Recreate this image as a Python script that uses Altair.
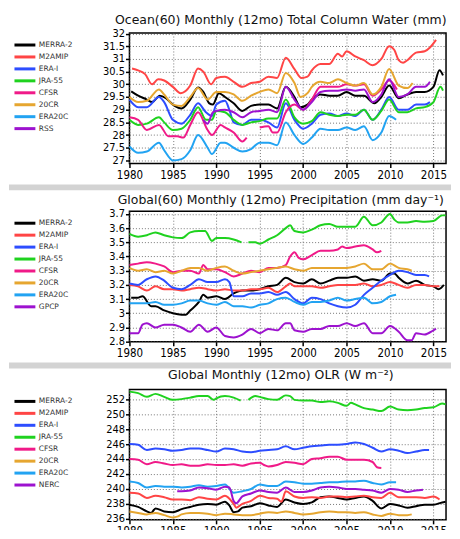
import altair as alt
import pandas as pd

GRAY = "#d3d3d3"
NAMES_TCW = ["MERRA-2", "M2AMIP", "ERA-I", "JRA-55", "CFSR", "20CR", "ERA20C", "RSS"]
NAMES_PRE = ["MERRA-2", "M2AMIP", "ERA-I", "JRA-55", "CFSR", "20CR", "ERA20C", "GPCP"]
NAMES_OLR = ["MERRA-2", "M2AMIP", "ERA-I", "JRA-55", "CFSR", "20CR", "ERA20C", "NERC"]
COLORS = ["#000000", "#ff4545", "#2d4dff", "#1fd21f", "#f01a88", "#e6a630", "#22a3f2", "#9d12cf"]

TITLES = [
    "Ocean(60) Monthly (12mo) Total Column Water (mm)",
    "Global(60) Monthly (12mo) Precipitation (mm day\u207b\u00b9)",
    "Global Monthly (12mo) OLR (W m\u207b\u00b2)",
]
YEAR_TICKS = [1980, 1985, 1990, 1995, 2000, 2005, 2010, 2015]
TCW_TICKS = [27, 27.5, 28, 28.5, 29, 29.5, 30, 30.5, 31, 31.5, 32]
PRE_TICKS = [2.8, 2.9, 3.0, 3.1, 3.2, 3.3, 3.4, 3.5, 3.6, 3.7]
OLR_TICKS = [236, 238, 240, 242, 244, 246, 248, 250, 252]

# ---------------- Total column water ----------------
TCW_MERRA2 = [[1980.2,29.72],[1981,29.55],[1982,29.4],[1982.6,29.3],[1983.5,29.55],[1984.2,29.45],[1985,29.2],[1986,29.05],[1987,29.4],[1987.9,29.87],[1988.5,29.7],[1989.2,29.25],[1989.6,29.2],[1990.3,29.65],[1991,29.5],[1992,29.25],[1993,28.95],[1994,29.15],[1995,29.2],[1996,29.2],[1997,29.05],[1998,29.9],[1999,29.5],[1999.7,29.1],[2000.5,29.2],[2001,29.4],[2002,29.6],[2003,29.55],[2004,29.55],[2005,29.7],[2006,29.55],[2007,29.55],[2008.2,29.25],[2009,29.5],[2009.9,29.95],[2011,29.45],[2012,29.6],[2013,29.7],[2014,29.7],[2015,29.9],[2015.7,30.55],[2016.1,30.35]]
TCW_M2AMIP = [[1980.3,30.62],[1981,30.55],[1981.8,30.4],[1982.6,30.0],[1983.3,30.2],[1984,30.15],[1985,29.9],[1985.9,29.65],[1987,29.95],[1987.9,30.62],[1988.5,30.5],[1989.4,30.0],[1990,30.25],[1991,30.3],[1992,30.1],[1993,29.9],[1994,30.05],[1995,30.1],[1996,30.3],[1997,30.25],[1998,31.05],[1999,30.6],[1999.8,30.25],[2000.5,30.3],[2001,30.55],[2002,30.8],[2003,30.8],[2004,31.2],[2004.5,31.1],[2005,31.3],[2006,31.1],[2007,30.95],[2008,30.75],[2009,31.0],[2009.9,31.5],[2010.5,31.35],[2011,30.95],[2011.5,30.85],[2012,30.95],[2013,31.25],[2014,31.3],[2014.6,31.45],[2015.3,31.75]]
TCW_ERAI = [[1980,29.4],[1981,29.1],[1982,29.1],[1983.4,29.5],[1984,29.3],[1985,28.6],[1986,28.45],[1987,28.8],[1987.9,29.25],[1988.8,28.9],[1989.5,28.75],[1990,29.2],[1991,29.35],[1991.5,29.0],[1992,28.5],[1993,28.4],[1994,28.6],[1995,28.6],[1996,28.5],[1997,28.3],[1998,29.25],[1999,28.6],[2000,28.25],[2001,28.45],[2002,28.8],[2003,28.85],[2004,28.75],[2005,28.85],[2006,28.75],[2007,29.0],[2008,28.6],[2009,29.0],[2009.9,29.5],[2011,29.0],[2012,29.0],[2013,29.2],[2014,29.2],[2014.6,29.3]]
TCW_JRA55 = [[1980,28.6],[1981,28.4],[1982,28.45],[1983.4,28.7],[1984,28.5],[1985,28.2],[1986,28.25],[1987,28.6],[1987.9,29.1],[1988.8,28.6],[1989.5,28.6],[1990,28.95],[1991,28.9],[1992,28.6],[1993,28.4],[1994,28.5],[1995,28.55],[1996,28.65],[1997,28.65],[1998,29.4],[1999,28.7],[2000,28.45],[2001,28.55],[2002,28.9],[2003,28.8],[2004,28.75],[2005,28.8],[2006,28.8],[2007,29.0],[2008,28.6],[2009,28.95],[2009.9,29.4],[2011,28.9],[2012,28.9],[2013,29.05],[2014,29.1],[2015,29.3],[2015.8,29.9],[2016.1,29.75]]
TCW_CFSR = [[1980,28.7],[1981,28.6],[1982,28.2],[1983.4,28.4],[1984.5,27.95],[1985.5,27.95],[1986.2,27.9],[1987,28.4],[1987.9,28.9],[1989,28.2],[1989.5,28.0],[1990.5,28.4],[1991,28.3],[1992,28.1],[1993,27.75],[1993.5,27.9],[1994.2,None],[1995,28.3],[1996,28.35],[1996.5,28.1],[1997,28.1],[1998,28.9],[1999,29.2],[2000,29.0],[2001,29.4],[2002,29.9],[2003,29.9],[2004,29.9],[2005,30.0],[2006,29.95],[2007,30.0],[2008,29.55],[2009,29.8],[2009.9,30.15],[2010.8,29.8]]
TCW_20CR = [[1980,29.5],[1981,29.3],[1982,29.35],[1983.4,29.8],[1984,29.6],[1985,29.2],[1986,29.15],[1987,29.5],[1987.9,29.85],[1989,29.4],[1990,29.7],[1991,29.7],[1992,29.6],[1993,29.35],[1994,29.55],[1995,29.7],[1996,29.8],[1997,29.65],[1998,30.45],[1999,30.05],[1999.7,29.5],[2000.5,29.65],[2001,29.9],[2002,30.1],[2003,30.05],[2004,30.2],[2005,30.05],[2006,29.95],[2007,30.05],[2008,29.6],[2009,29.9],[2009.9,30.6],[2011,29.95],[2012,29.85],[2012.6,30.05]]
TCW_ERA20C = [[1980,27.55],[1981,27.3],[1982,27.35],[1983.4,27.7],[1984,27.4],[1985,27.0],[1986,27.05],[1987,27.4],[1987.9,28.0],[1989,27.5],[1989.5,27.25],[1990.5,27.7],[1991,27.7],[1992,27.5],[1993,27.35],[1994,27.45],[1995,27.7],[1996,27.7],[1997,27.6],[1998,28.5],[1999,28.0],[2000,27.65],[2001,27.9],[2002,28.25],[2003,28.2],[2004,28.2],[2005,28.3],[2006,28.2],[2007,28.35],[2008,27.8],[2009,28.1],[2009.9,28.75],[2010.7,28.6]]
TCW_RSS = [[1988.5,28.6],[1989,28.45],[1989.6,28.9],[1990,28.95],[1991,29.0],[1992,28.9],[1993,28.7],[1994,28.9],[1995,28.95],[1996,29.0],[1997,28.9],[1998,29.9],[1999,29.4],[2000,29.0],[2001,29.3],[2002,29.7],[2003,29.75],[2004,29.75],[2005,29.8],[2006,29.75],[2007,29.8],[2008,29.3],[2009,29.6],[2009.9,30.2],[2011,29.5],[2012,29.6],[2013,29.9],[2014,29.9],[2014.6,30.1]]

# ---------------- Precipitation ----------------
PRE_MERRA2 = [[1980.2,3.11],[1981,3.11],[1981.5,3.12],[1982.5,3.05],[1983,3.05],[1984,3.02],[1985,3.0],[1986,2.99],[1986.5,2.99],[1987,3.02],[1988,3.08],[1988.5,3.13],[1989,3.11],[1990,3.12],[1991,3.1],[1992,3.14],[1993,3.16],[1994,3.16],[1995,3.17],[1996,3.19],[1997,3.2],[1998,3.25],[1999,3.22],[2000,3.21],[2001,3.24],[2002,3.21],[2003,3.23],[2004,3.25],[2005,3.25],[2006,3.26],[2007,3.23],[2008,3.24],[2009,3.23],[2010,3.28],[2010.5,3.28],[2011,3.25],[2012,3.21],[2013,3.23],[2014,3.2],[2015,3.19],[2015.6,3.17],[2016.2,3.2]]
PRE_M2AMIP = [[1980,3.2],[1981,3.19],[1982,3.16],[1983,3.19],[1984,3.17],[1985,3.17],[1986,3.16],[1987,3.17],[1988,3.18],[1989,3.17],[1990,3.16],[1991,3.17],[1992,3.16],[1993,3.16],[1994,3.17],[1995,3.17],[1996,3.18],[1997,3.15],[1998,3.19],[1998.5,3.21],[1999,3.19],[2000,3.19],[2001,3.19],[2002,3.18],[2003,3.19],[2004,3.2],[2005,3.2],[2006,3.2],[2007,3.21],[2008,3.19],[2009,3.2],[2010,3.22],[2011,3.2],[2012,3.18],[2013,3.2],[2014,3.2],[2015,3.19],[2015.7,3.19]]
PRE_ERAI = [[1980,3.21],[1981,3.2],[1982,3.24],[1983,3.26],[1984,3.23],[1985,3.18],[1986,3.17],[1987,3.2],[1988,3.24],[1989,3.22],[1990,3.22],[1991,3.24],[1991.5,3.22],[1992,3.12],[1993,3.12],[1994,3.14],[1995,3.14],[1996,3.15],[1997,3.13],[1998,3.15],[1999,3.1],[2000,3.07],[2001,3.11],[2002,3.1],[2003,3.07],[2004,3.05],[2005,3.04],[2006,3.06],[2007,3.13],[2008,3.18],[2009,3.23],[2010,3.27],[2011,3.3],[2012,3.29],[2013,3.27],[2014,3.27],[2014.5,3.26]]
PRE_JRA55 = [[1980,3.56],[1981,3.54],[1982,3.55],[1983,3.57],[1984,3.55],[1985,3.535],[1986,3.53],[1987,3.57],[1988,3.58],[1988.7,3.58],[1989.5,3.51],[1990,3.53],[1991,3.53],[1992,3.52],[1992.9,3.5],[1993.3,None],[1993.7,3.5],[1994.5,3.5],[1995,3.49],[1996,3.52],[1997,3.55],[1998,3.6],[1998.5,3.62],[1999,3.58],[2000,3.57],[2001,3.59],[2002,3.62],[2003,3.63],[2004,3.61],[2005,3.61],[2006,3.61],[2007,3.68],[2008,3.62],[2009,3.64],[2010,3.7],[2010.5,3.66],[2011,3.64],[2012,3.64],[2013,3.65],[2014,3.645],[2015,3.65],[2016,3.69],[2016.4,3.69]]
PRE_CFSR = [[1980,3.34],[1981,3.35],[1982,3.36],[1983,3.35],[1984,3.33],[1985,3.29],[1986,3.3],[1987,3.3],[1988,3.28],[1988.5,3.34],[1989,3.31],[1990,3.31],[1991,3.29],[1992,3.26],[1993,3.28],[1994,3.3],[1995,3.29],[1996,3.32],[1997,3.32],[1998,3.34],[1998.5,3.4],[1999,3.43],[1999.5,3.39],[2000,3.38],[2001,3.41],[2002,3.44],[2003,3.44],[2004,3.45],[2004.5,3.47],[2005,3.46],[2006,3.47],[2007,3.48],[2008,3.45],[2008.5,3.43],[2009,3.44]]
PRE_20CR = [[1980,3.32],[1981,3.3],[1982,3.31],[1983,3.29],[1984,3.3],[1985,3.28],[1986,3.3],[1987,3.32],[1988,3.32],[1989,3.3],[1990,3.32],[1991,3.33],[1992,3.3],[1993,3.28],[1994,3.29],[1995,3.3],[1996,3.31],[1997,3.32],[1998,3.33],[1999,3.31],[2000,3.3],[2001,3.32],[2002,3.32],[2003,3.32],[2004,3.32],[2005,3.32],[2006,3.33],[2007,3.35],[2008,3.31],[2009,3.31],[2010,3.35],[2011,3.32],[2012,3.31],[2012.5,3.3]]
PRE_ERA20C = [[1980,3.07],[1981,3.07],[1982,3.07],[1983,3.08],[1984,3.06],[1985,3.06],[1986,3.07],[1987,3.09],[1988,3.09],[1989,3.07],[1990,3.06],[1991,3.08],[1992,3.05],[1993,3.05],[1994,3.04],[1995,3.06],[1996,3.07],[1997,3.1],[1998,3.11],[1999,3.08],[2000,3.06],[2001,3.08],[2002,3.08],[2003,3.09],[2004,3.11],[2005,3.09],[2006,3.1],[2007,3.11],[2008,3.07],[2009,3.08],[2010,3.12],[2010.7,3.13]]
PRE_GPCP = [[1980,2.86],[1981,2.86],[1981.5,2.92],[1982,2.93],[1983,2.9],[1984,2.92],[1985,2.92],[1986,2.9],[1987,2.87],[1988,2.92],[1989,2.87],[1990,2.9],[1991,2.84],[1992,2.83],[1993,2.85],[1994,2.89],[1995,2.86],[1996,2.89],[1997,2.88],[1998,2.93],[1998.5,2.93],[1999,2.88],[2000,2.87],[2001,2.89],[2002,2.89],[2003,2.91],[2004,2.91],[2005,2.93],[2006,2.91],[2007,2.93],[2008,2.86],[2009,2.86],[2010,2.91],[2011,2.87],[2012,2.81],[2012.5,2.81],[2013,2.86],[2014,2.85],[2015,2.88],[2015.3,2.89]]

# ---------------- OLR ----------------
OLR_MERRA2 = [[1980,237.9],[1981,237.6],[1982,237.0],[1982.5,236.8],[1983,237.4],[1984,237.0],[1985,236.9],[1986,237.3],[1987,237.6],[1988,237.9],[1989,238.0],[1990,237.9],[1991,238.3],[1991.5,237.8],[1992,236.9],[1992.5,237.0],[1993,237.5],[1994,237.7],[1995,238.1],[1996,237.8],[1997,237.6],[1998,238.6],[1999,238.2],[2000,238.0],[2001,238.2],[2002,238.9],[2003,239.0],[2004,238.8],[2005,238.6],[2006,238.8],[2007,239.0],[2008,238.4],[2009,237.4],[2010,238.0],[2011,237.8],[2012,237.5],[2013,237.7],[2014,237.9],[2015,237.9],[2016,238.2],[2016.4,238.3]]
OLR_M2AMIP = [[1980,239.5],[1981,239.4],[1982,238.8],[1983,239.1],[1984,238.9],[1985,238.6],[1986,238.6],[1987,238.5],[1988,238.9],[1989,238.7],[1990,238.6],[1991,239.1],[1992,238.0],[1992.3,237.5],[1993,238.0],[1994,238.4],[1995,239.1],[1996,238.8],[1997,238.7],[1997.5,238.3],[1998,239.7],[1999,239.0],[2000,238.8],[2001,238.9],[2002,238.8],[2003,239.0],[2004,239.0],[2005,238.9],[2006,239.0],[2007,239.1],[2008,238.9],[2009,238.8],[2010,239.5],[2011,238.9],[2012,238.9],[2013,238.9],[2014,238.8],[2015,239.0],[2015.7,238.6]]
OLR_ERAI = [[1980,246.0],[1981,245.9],[1982,245.2],[1983,245.4],[1984,245.3],[1985,245.1],[1986,245.2],[1987,245.4],[1988,245.4],[1989,245.2],[1990,245.0],[1991,245.4],[1992,245.3],[1993,245.0],[1994,244.9],[1995,245.1],[1996,245.2],[1997,245.3],[1998,245.7],[1999,245.3],[2000,245.5],[2001,245.7],[2002,245.8],[2003,245.9],[2004,245.9],[2005,246.0],[2006,246.2],[2007,246.0],[2008,245.5],[2009,245.0],[2010,245.3],[2011,245.1],[2012,244.8],[2013,245.0],[2014,245.2],[2014.5,245.2]]
OLR_JRA55 = [[1980,253.0],[1981,252.8],[1982,252.3],[1983,252.7],[1984,252.3],[1985,251.9],[1986,252.0],[1987,252.2],[1988,252.4],[1989,252.4],[1989.7,251.9],[1990,252.1],[1991,252.4],[1992,252.2],[1992.8,251.8],[1993.3,None],[1993.7,251.9],[1994.5,252.4],[1995,252.3],[1996,252.0],[1997,251.9],[1998,252.5],[1998.5,252.4],[1999,251.9],[2000,251.8],[2001,251.8],[2002,251.6],[2003,251.7],[2004,251.5],[2005,251.1],[2005.5,251.5],[2006,251.3],[2007,250.8],[2008,250.6],[2009,250.4],[2010,251.0],[2011,250.6],[2012,250.5],[2013,250.6],[2014,250.8],[2015,250.9],[2016,251.4],[2016.4,251.3]]
OLR_CFSR = [[1980,244.0],[1981,243.9],[1982,243.3],[1983,243.6],[1984,243.4],[1985,243.2],[1986,243.3],[1987,243.1],[1988,243.1],[1989,243.3],[1990,243.2],[1991,243.2],[1992,243.3],[1993,243.1],[1994,243.4],[1995,243.5],[1995.5,243.2],[1996,243.0],[1997,243.2],[1998,243.6],[1999,243.5],[2000,243.3],[2001,244.0],[2002,244.1],[2003,244.3],[2004,244.3],[2005,243.9],[2006,243.9],[2007,243.9],[2008,243.6],[2008.5,242.9],[2009,242.8]]
OLR_20CR = [[1980,237.0],[1981,236.8],[1982,236.6],[1983,236.8],[1984,236.5],[1985,236.2],[1985.5,236.3],[1986,236.6],[1987,236.8],[1988,236.8],[1989,236.7],[1990,236.5],[1991,236.7],[1992,236.6],[1993,236.5],[1994,236.5],[1995,236.7],[1996,236.9],[1997,236.8],[1998,237.0],[1999,236.8],[2000,236.6],[2001,236.7],[2002,236.9],[2003,237.0],[2004,236.9],[2005,236.9],[2006,236.8],[2007,236.9],[2008,236.6],[2009,236.4],[2010,236.7],[2011,236.5],[2012,236.5],[2012.5,236.6]]
OLR_ERA20C = [[1980,241.0],[1981,240.8],[1982,240.2],[1983,240.4],[1984,240.3],[1985,240.3],[1986,240.2],[1987,240.3],[1988,240.5],[1989,240.3],[1990,240.4],[1991,240.6],[1992,239.5],[1993,239.7],[1994,240.0],[1995,240.6],[1996,240.4],[1997,240.4],[1998,241.0],[1999,240.9],[2000,240.7],[2001,240.7],[2002,240.8],[2003,240.9],[2004,240.9],[2005,241.0],[2006,241.0],[2007,241.1],[2008,240.8],[2009,240.6],[2010,240.9],[2010.7,240.9]]
OLR_NERC = [[1985.5,239.7],[1986,239.7],[1987,239.8],[1988,240.2],[1989,240.1],[1990,239.9],[1991,240.3],[1991.5,240.2],[1992,238.4],[1992.3,238.1],[1993,239.0],[1994,239.4],[1995,239.8],[1996,239.6],[1997,239.5],[1998,240.2],[1999,239.6],[2000,239.6],[2001,239.8],[2002,240.2],[2003,240.3],[2004,240.2],[2005,240.0],[2006,240.0],[2007,239.9],[2008,239.8],[2009,239.5],[2010,240.0],[2011,239.9],[2012,239.6],[2013,239.8],[2013.8,239.9]]

TCW_ALL = [TCW_MERRA2, TCW_M2AMIP, TCW_ERAI, TCW_JRA55, TCW_CFSR, TCW_20CR, TCW_ERA20C, TCW_RSS]
PRE_ALL = [PRE_MERRA2, PRE_M2AMIP, PRE_ERAI, PRE_JRA55, PRE_CFSR, PRE_20CR, PRE_ERA20C, PRE_GPCP]
OLR_ALL = [OLR_MERRA2, OLR_M2AMIP, OLR_ERAI, OLR_JRA55, OLR_CFSR, OLR_20CR, OLR_ERA20C, OLR_NERC]


def build(names, arrays):
    rows = []
    for name, arr in zip(names, arrays):
        seg = 0
        for yr, v in arr:
            if v is None:
                seg += 1
                continue
            rows.append({"year": yr, "value": v, "series": name, "seg": f"{name}-{seg}"})
    return pd.DataFrame(rows)


W, H = 318, 131
TICK_FONT = "Liberation Sans Narrow, DejaVu Sans Condensed, DejaVu Sans"


def deco(x1, x2, y1, y2, color):
    return alt.Chart(alt.Data(values=[{}])).mark_rect(fill=color).encode(
        x=alt.value(x1), x2=alt.value(x2), y=alt.value(y1), y2=alt.value(y2)
    )


def panel(names, arrays, title, ydom, yticks, title_offset, last=False):
    df = build(names, arrays)
    x = alt.X("year:Q", scale=alt.Scale(domain=[1980, 2016.45], nice=False, zero=False),
              axis=alt.Axis(values=YEAR_TICKS, format="d", title=None, labelFlush=False,
                            labelFontSize=11.5, labelPadding=2))
    y = alt.Y("value:Q", scale=alt.Scale(domain=ydom, nice=False, zero=False),
              axis=alt.Axis(values=yticks, format="~g", title=None, labelFlush=False,
                            labelFontSize=11, labelPadding=1))
    lines = alt.Chart(df).mark_line(strokeWidth=2, interpolate="monotone").encode(
        x=x, y=y,
        color=alt.Color("series:N", scale=alt.Scale(domain=names, range=COLORS),
                        legend=alt.Legend(orient="none", legendX=-110, legendY=7, title=None,
                                          symbolType="M-3,0H3", symbolStrokeWidth=3, symbolSize=49,
                                          labelFontSize=7.5, labelFont="DejaVu Sans", labelColor="#333333",
                                          rowPadding=0, labelOffset=9, symbolOffset=0, padding=0)),
        detail="seg:N",
    )
    layers = []
    if not last:
        layers.append(deco(-121, 323, 152, 158, GRAY))
    layers.append(lines)
    return alt.layer(*layers).properties(
        width=W, height=H,
        title=alt.TitleParams(title, fontSize=12.5, font="DejaVu Sans", fontWeight="normal",
                              color="#111111", offset=title_offset, dx=-7),
    )


p1 = panel(NAMES_TCW, TCW_ALL, TITLES[0], [26.88, 32.02], TCW_TICKS, 1)
p2 = panel(NAMES_PRE, PRE_ALL, TITLES[1], [2.8, 3.719], PRE_TICKS, 1)
p3 = panel(NAMES_OLR, OLR_ALL, TITLES[2], [235.87, 253.29], OLR_TICKS, 6, last=True)

chart = alt.vconcat(p1, p2, p3, spacing=48, bounds="flush").resolve_scale(
    color="independent", x="independent", y="independent"
).configure(
    background="white", padding={"left": 0, "top": 4, "right": 0, "bottom": -10}
).configure_view(
    stroke="black", strokeWidth=1.5
).configure_axis(
    domain=False, ticks=True, tickColor="black", tickWidth=1.5, tickSize=4,
    labelFont=TICK_FONT, labelColor="black",
    grid=True, gridColor="#777777", gridDash=[1, 2], gridWidth=1, gridOpacity=1,
)

chart.save("out.html", embed_options={"renderer": "svg", "actions": False})
